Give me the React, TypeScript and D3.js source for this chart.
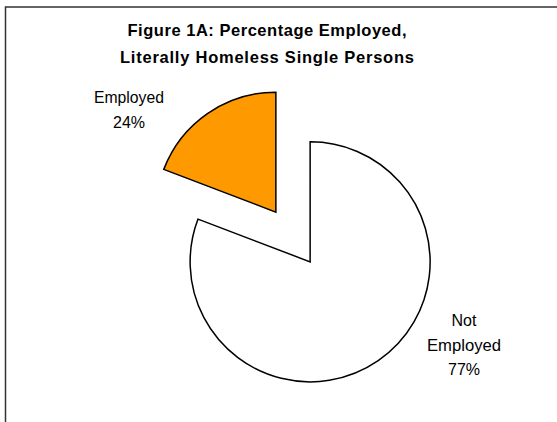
import React from "react";
import * as d3 from "d3";

// Data
const categories = ["Not Employed", "Employed"];
const sliceValues = [80.8, 19.2]; // slice sizes as drawn in the picture
const labelLines = [["Not", "Employed"], ["Employed"]];
const percentLabels = ["77%", "24%"];
const colors = ["#FFFFFF", "#FF9900"];
const titleLines = ["Figure 1A: Percentage Employed,", "Literally Homeless Single Persons"];

const W = 557;
const H = 422;
const cx = 293;
const cy = 237;
const R = 120;
const explode = 30.2;
// label anchor offsets from pie center (layout)
const labelAnchors = [
  { dx: 171, dy: 108 },
  { dx: -164, dy: -127 },
];
const lineH = 24.7;

export default function App() {
  const pie = d3.pie<number>().sort(null).value((d) => d);
  const arcs = pie(sliceValues);
  const arc = d3.arc<d3.PieArcDatum<number>>().innerRadius(0).outerRadius(R);

  return (
    <svg
      width={W}
      height={H}
      style={{ position: "absolute", left: 0, top: 0, background: "#fff" }}
      fontFamily="'Liberation Sans', Arial, sans-serif"
    >
      <rect x={5.5} y={7} width={700} height={600} fill="#fff" stroke="#333" strokeWidth={1.5} />
      {titleLines.map((t, i) => (
        <text
          key={i}
          x={267}
          y={36 + i * 26.5}
          textAnchor="middle"
          fontWeight="bold"
          fontSize={16.5}
          fill="#000"
          textLength={i === 0 ? 279 : 294}
          lengthAdjust="spacing"
        >
          {t}
        </text>
      ))}
      {arcs.map((a, i) => {
        const mid = (a.startAngle + a.endAngle) / 2;
        const ox = Math.sin(mid) * explode;
        const oy = -Math.cos(mid) * explode;
        return (
          <path
            key={categories[i]}
            d={arc(a) || ""}
            transform={`translate(${cx + ox},${cy + oy})`}
            fill={colors[i]}
            stroke="#000"
            strokeWidth={1.5}
            strokeLinejoin="miter"
          />
        );
      })}
      {arcs.map((a, i) => {
        const lines = [...labelLines[i], percentLabels[i]];
        const n = lines.length;
        const lx = cx + labelAnchors[i].dx;
        const ly = cy + labelAnchors[i].dy;
        return (
          <text key={"l" + i} textAnchor="middle" fontSize={16} fill="#000">
            {lines.map((ln, j) => (
              <tspan
                key={j}
                x={lx}
                y={ly + (j - (n - 1) / 2) * lineH + 5.5}
                textLength={ln === "Employed" ? (i === 0 ? 74 : 70) : undefined}
                lengthAdjust="spacingAndGlyphs"
              >
                {ln}
              </tspan>
            ))}
          </text>
        );
      })}
    </svg>
  );
}
